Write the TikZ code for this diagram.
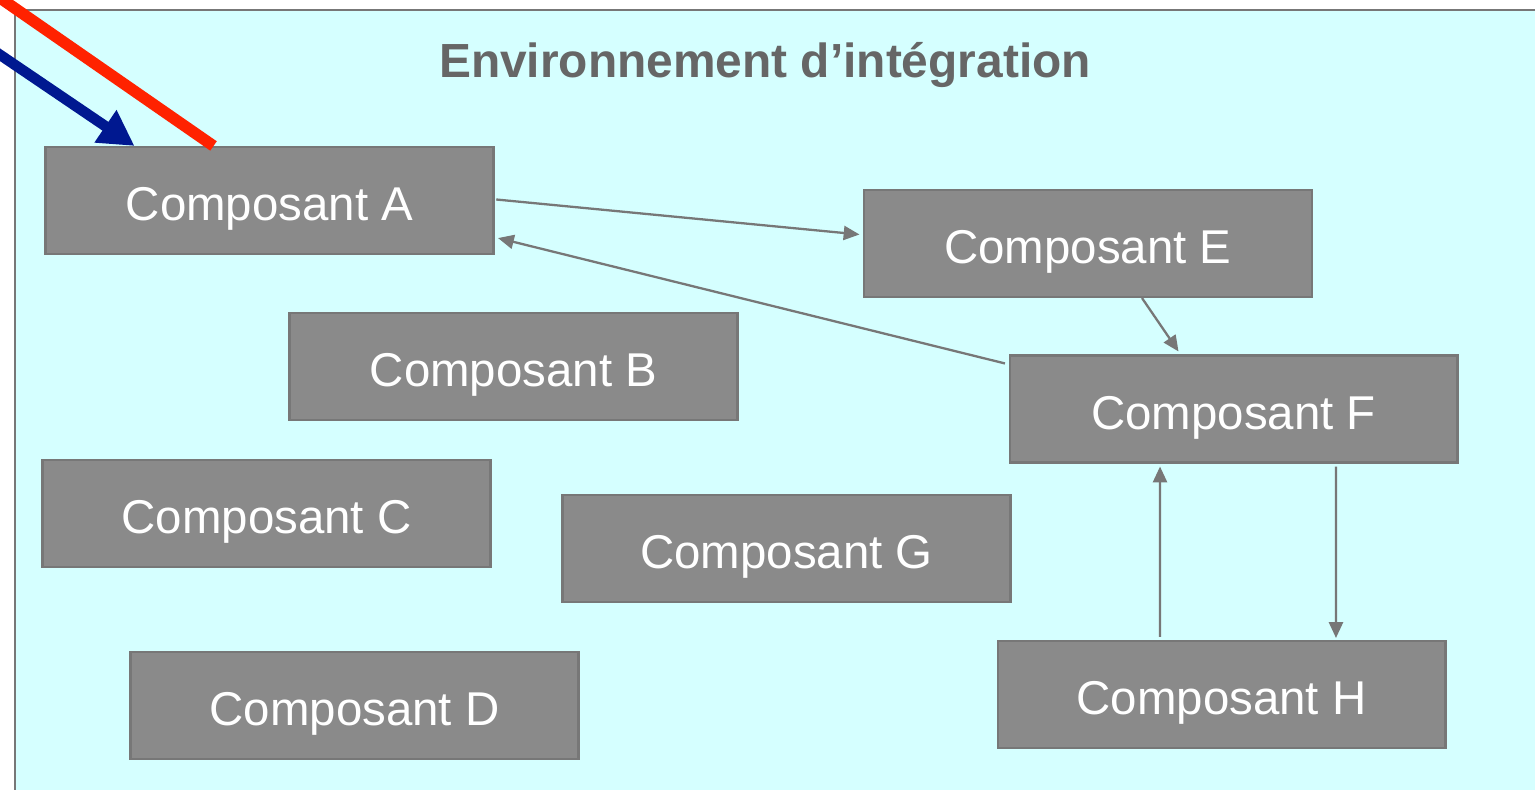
\documentclass[tikz,border=0pt]{standalone}
\usepackage[x11names,svgnames]{xcolor}
\usepackage{fontspec}
\setmainfont{Liberation Sans}
\usetikzlibrary{arrows.meta}

\definecolor{envfond}{HTML}{D5FFFF}
\definecolor{boite}{HTML}{8A8A8A}
\definecolor{trait}{HTML}{777777}
\definecolor{titre}{HTML}{666666}
\definecolor{rouge}{HTML}{FF2200}
\definecolor{marine}{HTML}{001890}

\tikzset{
  composant/.style={draw=trait, line width=1.2pt, fill=boite, text=white,
    minimum width=8.96cm, minimum height=2.14cm, inner sep=0pt,
    text height=0.82cm, text depth=0cm, font=\fontsize{27}{30}\selectfont},
  lien/.style={draw=trait, line width=1.3pt, {}-{Triangle[length=9pt,width=8pt]}}
}

\begin{document}
\begin{tikzpicture}[x=0.02cm,y=-0.02cm]
      \useasboundingbox (0,0) rectangle (1535,790);
      % environnement
      \fill [envfond] (15,10) rectangle (1545,800);
      \draw [trait, line width=1.3pt] (1545,10) -- (15,10) -- (15,800);
      \node [anchor=base, text=titre, font=\fontsize{27.25}{30}\selectfont\bfseries]
        (titre) at (765,78) {Environnement d’intégration};

      \node [composant] (comp A) at (269.5,200.5) {Composant A};
      \node [composant] (comp B) at (513.5,366.5) {Composant B};
      \node [composant] (comp C) at (266.5,513.5) {Composant C};
      \node [composant] (comp D) at (354.5,705.5) {Composant D};
      \node [composant] (comp E) at (1088,243.5)  {Composant E};
      \node [composant] (comp F) at (1233.5,409)  {Composant F};
      \node [composant] (comp G) at (786.5,548.5) {Composant G};
      \node [composant] (comp H) at (1221.5,694.5) {Composant H};

      \draw [lien] ([xshift=1pt,yshift=0.02cm]comp A.east) -- ([xshift=-2pt,yshift=0.18cm]comp E.west);
      \draw [lien] ([xshift=-2pt,yshift=-0.18cm]comp F.north west) -- ([xshift=2pt,yshift=0.34cm]comp A.south east);
      \draw [lien] ([xshift=1.08cm]comp E.south) -- ([xshift=-1.1cm,yshift=0.06cm]comp F.north);
      \draw [lien] ([xshift=-1.23cm,yshift=0.06cm]comp H.north) -- ([xshift=-1.47cm,yshift=-0.06cm]comp F.south);
      \draw [lien] ([xshift=2.05cm,yshift=-0.06cm]comp F.south) -- ([xshift=2.29cm,yshift=0.04cm]comp H.north);

      % liens venant de l'exterieur
      \coordinate (ext rouge) at (-10,-9);
      \coordinate (ext bleu)  at (-10,48);
      \draw [rouge, line width=6.5pt] (ext rouge) -- ([xshift=-1.12cm]comp A.north);
      \draw [marine, line width=6pt, {}-{Triangle[length=20pt,width=21pt]}]
        (ext bleu) -- ([xshift=-2.7cm]comp A.north);
\end{tikzpicture}
\end{document}
